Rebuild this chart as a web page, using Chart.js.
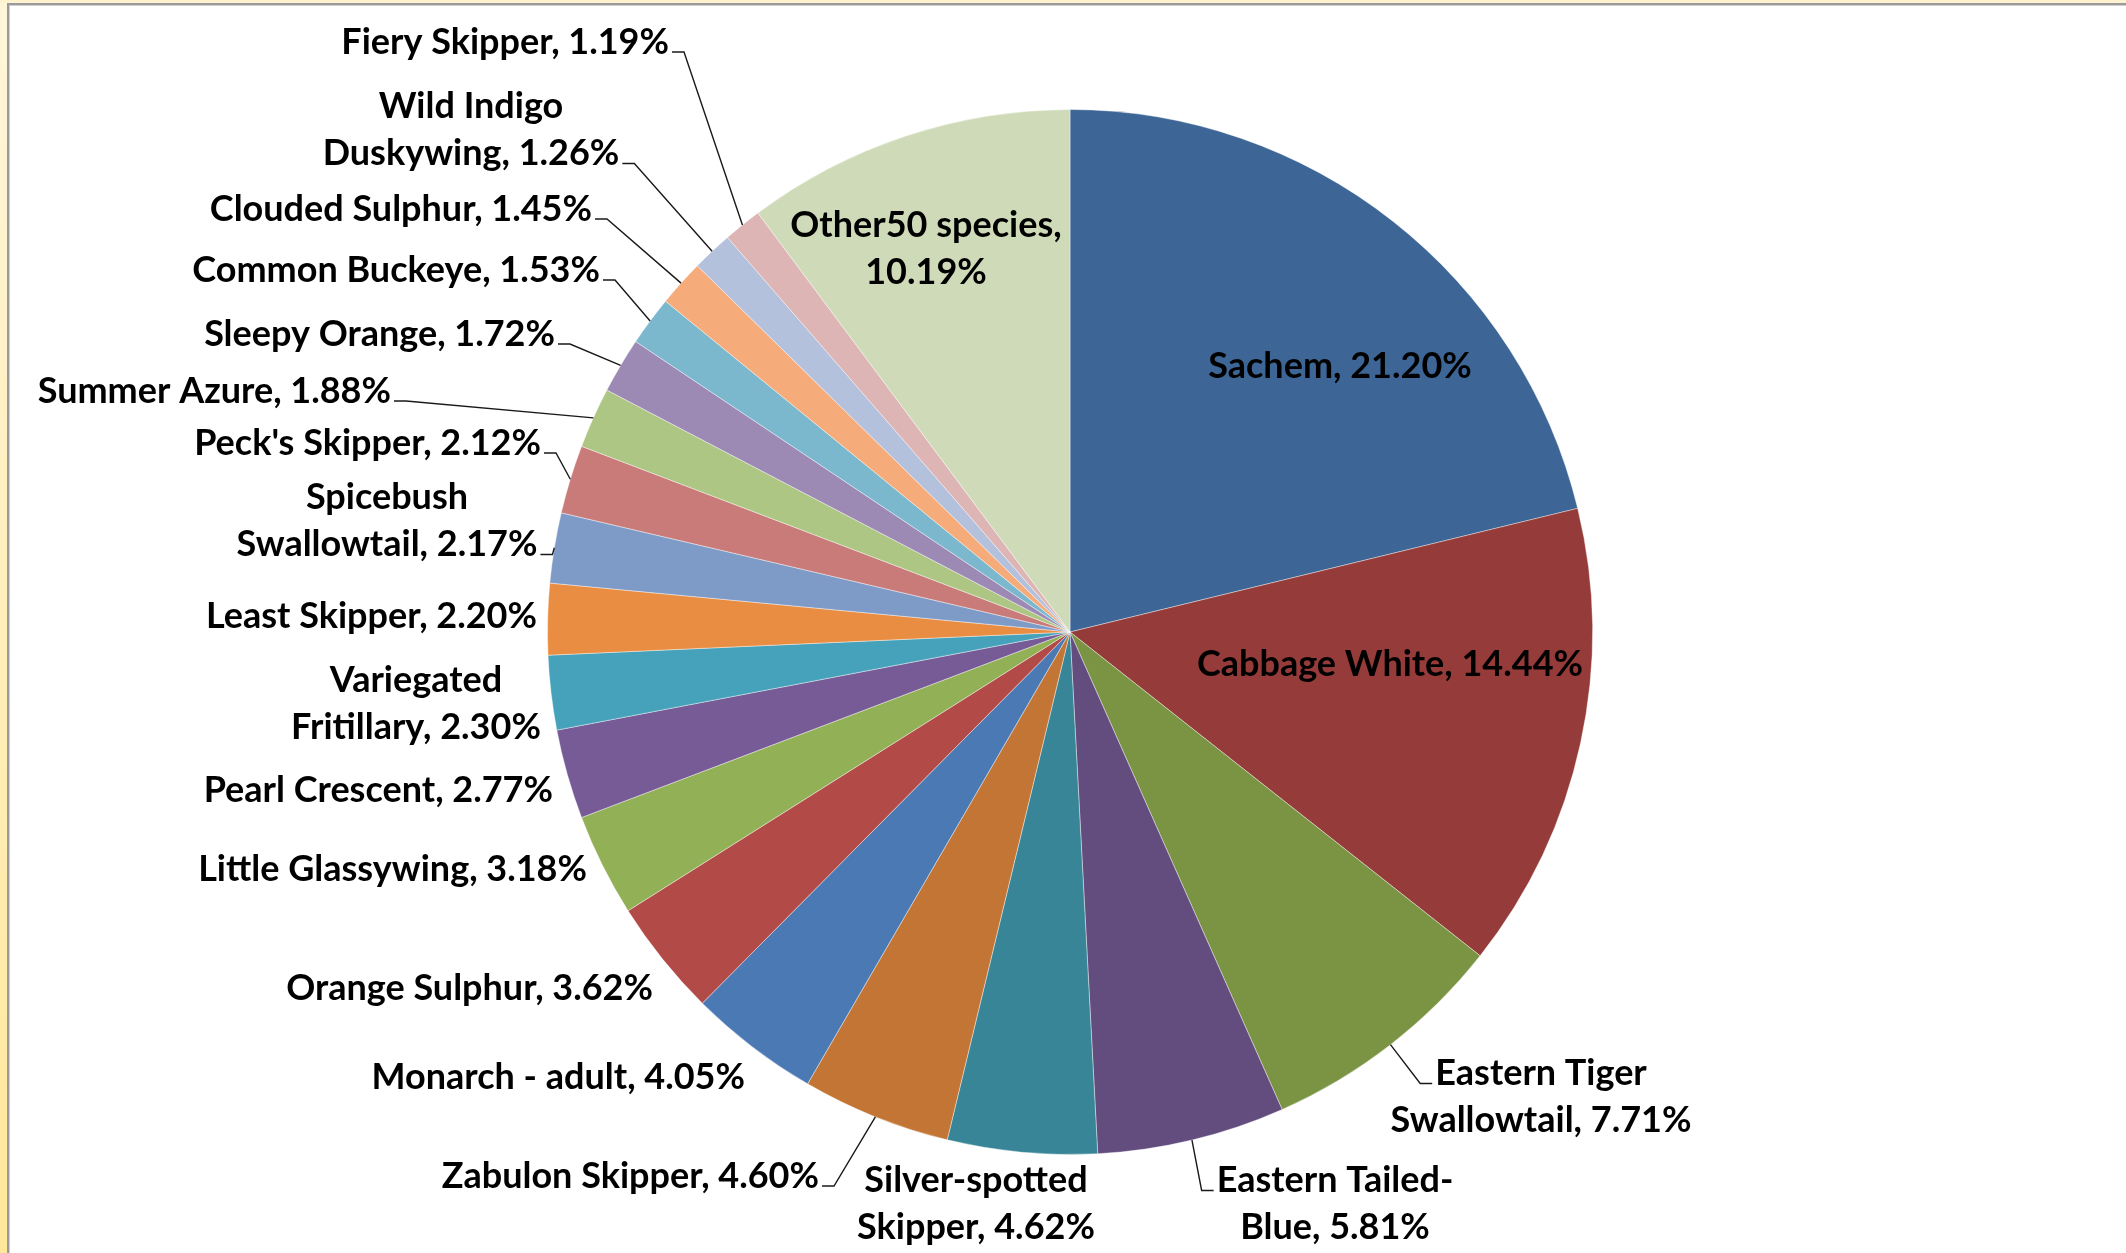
<!DOCTYPE html>
<html>
<head>
<meta charset="utf-8">
<title>Butterfly species share</title>
<script src="https://cdn.jsdelivr.net/npm/chart.js@4.4.1/dist/chart.umd.min.js"></script>
<style>
  html, body { margin: 0; padding: 0; background: #fff; }
  body { width: 2126px; height: 1253px; position: relative; overflow: hidden; }
  /* workbook window edge: cream strip on the left and top */
  .edge-left {
    position: absolute; left: 0; top: 0; width: 7px; height: 1253px;
    background: linear-gradient(to bottom, #fff6da, #ffe79a);
  }
  .edge-top {
    position: absolute; left: 0; top: 0; width: 2126px; height: 3px;
    background: #fff3cf;
  }
  .frame {
    position: absolute; left: 7px; top: 3px; right: 0; bottom: 0;
    border-left: 2px solid #9a9a9a; border-top: 2px solid #9a9a9a;
    box-shadow: inset 1px 1px 0 #d0d0d0;
    background: #fff;
  }
  .plot { position: absolute; left: 0; top: 0; width: 2126px; height: 1253px; }
</style>
</head>
<body>
<div class="edge-left"></div>
<div class="edge-top"></div>
<div class="frame"></div>
<div class="plot"><canvas id="speciesPie"></canvas></div>

<script>
// species, in slice order clockwise from 12 o'clock
const speciesNames = [
  'Sachem', 'Cabbage White', 'Eastern Tiger Swallowtail', 'Eastern Tailed-Blue',
  'Silver-spotted Skipper', 'Zabulon Skipper', 'Monarch - adult', 'Orange Sulphur',
  'Little Glassywing', 'Pearl Crescent', 'Variegated Fritillary', 'Least Skipper',
  'Spicebush Swallowtail', "Peck's Skipper", 'Summer Azure', 'Sleepy Orange',
  'Common Buckeye', 'Clouded Sulphur', 'Wild Indigo Duskywing', 'Fiery Skipper',
  'Other50 species'
];

// percent of all individuals counted
const sharePct = [
  21.20, 14.44, 7.71, 5.81,
  4.62, 4.60, 4.05, 3.62,
  3.18, 2.77, 2.30, 2.20,
  2.17, 2.12, 1.88, 1.72,
  1.53, 1.45, 1.26, 1.19,
  10.19
];

const sliceColors = [
  '#3d6696', '#953b39', '#7a9443', '#634c7e',
  '#378597', '#c27534', '#4a79b3', '#b24b48',
  '#92b055', '#775b96', '#46a2bb', '#e98d42',
  '#7e9bc8', '#c97b79', '#aec683', '#9c8ab5',
  '#7bb8ce', '#f6ac7a', '#b4c1dd', '#ddb5b5',
  '#cfdbb8'
];

// label placement, offsets in px from the pie centre
// align: text alignment at dx; wrap: first line when the label breaks in two
const labelSpots = [
  { dx: 270, dy: -266, align: 'center' },
  { dx: 320, dy: 32, align: 'center' },
  { dx: 471, dy: 465, align: 'center', wrap: 'Eastern Tiger', leader: true },
  { dx: 265, dy: 572, align: 'center', wrap: 'Eastern Tailed-', leader: true },
  { dx: -94, dy: 572, align: 'center', wrap: 'Silver-spotted' },
  { dx: -251, dy: 544, align: 'right', leader: true },
  { dx: -325, dy: 445, align: 'right' },
  { dx: -417, dy: 356, align: 'right' },
  { dx: -483, dy: 237, align: 'right' },
  { dx: -517, dy: 158, align: 'right' },
  { dx: -654, dy: 72, align: 'center', wrap: 'Variegated' },
  { dx: -533, dy: -16, align: 'right' },
  { dx: -683, dy: -111, align: 'center', wrap: 'Spicebush', leader: true },
  { dx: -529, dy: -189, align: 'right', leader: true },
  { dx: -679, dy: -241, align: 'right', leader: true },
  { dx: -515, dy: -298, align: 'right', leader: true },
  { dx: -470, dy: -362, align: 'right', leader: true },
  { dx: -478, dy: -423, align: 'right', leader: true },
  { dx: -599, dy: -502, align: 'center', wrap: 'Wild Indigo', leader: true },
  { dx: -401, dy: -590, align: 'right', leader: true },
  { dx: -144, dy: -383, align: 'center', wrap: 'Other50 species,' }
];

const FONT_SIZE = 36;
const LINE_H = 47;

const sliceLabels = {
  id: 'sliceLabels',
  afterDatasetsDraw(chart) {
    const ctx = chart.ctx;
    const arcs = chart.getDatasetMeta(0).data;
    ctx.save();
    ctx.font = `bold ${FONT_SIZE}px Lato, "Liberation Sans", sans-serif`;
    ctx.fillStyle = '#000';
    ctx.strokeStyle = '#1a1a1a';
    ctx.lineWidth = 1.4;
    ctx.textBaseline = 'middle';

    arcs.forEach((arc, i) => {
      const spot = labelSpots[i];
      const text = `${speciesNames[i]}, ${sharePct[i].toFixed(2)}%`;
      const lines = spot.wrap ? [spot.wrap, text.slice(spot.wrap.length).trim()] : [text];
      const bx = arc.x + spot.dx;
      const top = arc.y + spot.dy - (lines.length - 1) * LINE_H / 2;

      ctx.textAlign = spot.align;
      lines.forEach((ln, k) => ctx.fillText(ln, bx, top + k * LINE_H));

      if (!spot.leader) return;
      const mid = (arc.startAngle + arc.endAngle) / 2;
      const ex = arc.x + Math.cos(mid) * arc.outerRadius;
      const ey = arc.y + Math.sin(mid) * arc.outerRadius;
      const leftSide = ex < arc.x;
      // left-hand labels hook on after their last line, right-hand ones before the first
      const k = leftSide ? lines.length - 1 : 0;
      const w = ctx.measureText(lines[k]).width;
      let lx, rx;
      if (spot.align === 'right') { lx = bx - w; rx = bx; }
      else if (spot.align === 'left') { lx = bx; rx = bx + w; }
      else { lx = bx - w / 2; rx = bx + w / 2; }
      const sy = top + k * LINE_H + 10;
      const sx0 = leftSide ? rx + 3 : lx - 3;
      const sx1 = leftSide ? sx0 + 12 : sx0 - 12;
      ctx.beginPath();
      ctx.moveTo(sx0, sy);
      ctx.lineTo(sx1, sy);
      ctx.lineTo(ex, ey);
      ctx.stroke();
    });
    ctx.restore();
  }
};

new Chart(document.getElementById('speciesPie'), {
  type: 'pie',
  data: {
    labels: speciesNames,
    datasets: [{
      data: sharePct,
      backgroundColor: sliceColors,
      borderColor: 'rgba(255,255,255,0.4)',
      borderWidth: 1
    }]
  },
  options: {
    responsive: true,
    maintainAspectRatio: false,
    animation: false,
    layout: {
      padding: { top: 109, bottom: 98, left: 547, right: 533 }
    },
    plugins: {
      legend: { display: false },
      tooltip: { enabled: false }
    }
  },
  plugins: [sliceLabels]
});
</script>
</body>
</html>
